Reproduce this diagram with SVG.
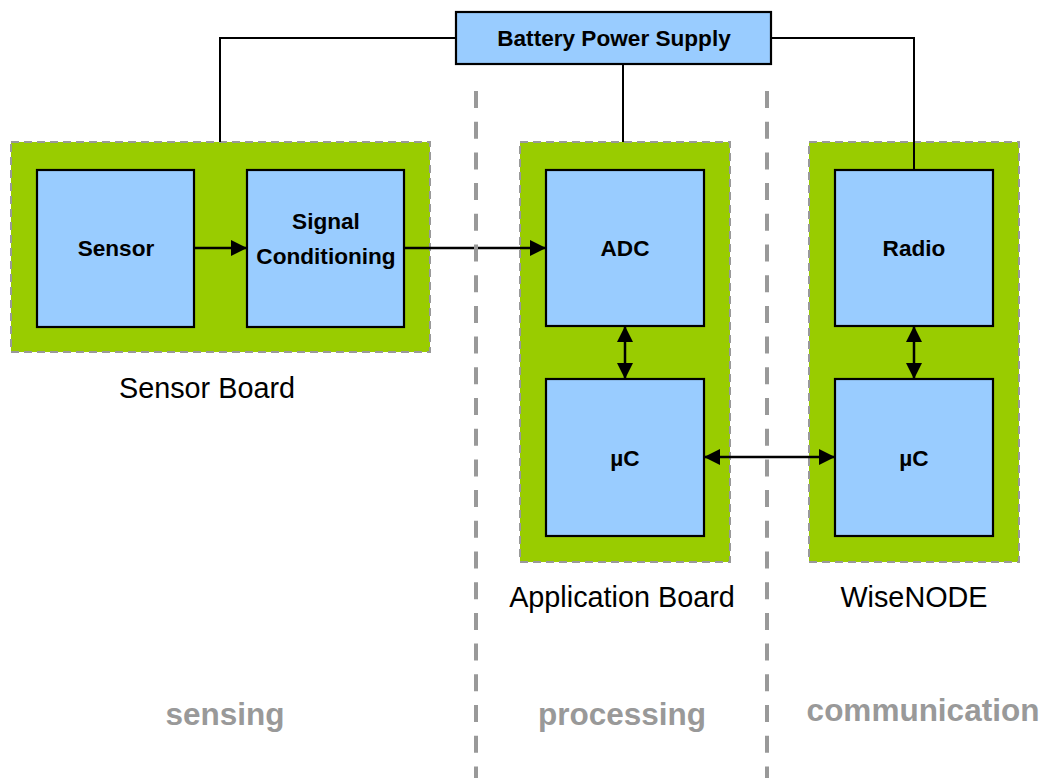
<svg xmlns="http://www.w3.org/2000/svg" width="1047" height="778" viewBox="0 0 1047 778">
<style>
.board{fill:#99CC00;stroke:#999999;stroke-width:2;stroke-dasharray:8 5}
.box{fill:#99CCFF;stroke:#000;stroke-width:2.2}
.lbl{font-family:"Liberation Sans",Arial,sans-serif;font-weight:bold;font-size:22.6px;fill:#000;text-anchor:middle}
.cap{font-family:"Liberation Sans",Arial,sans-serif;font-size:28.8px;fill:#000;text-anchor:middle}
.zone{font-family:"Liberation Sans",Arial,sans-serif;font-weight:bold;font-size:31.5px;fill:#999999;text-anchor:middle}
.wire{fill:none;stroke:#000;stroke-width:2}
.arr{fill:none;stroke:#000;stroke-width:2.5}
.sep{stroke:#999999;stroke-width:4;stroke-dasharray:17 13.7}
</style>
<defs>
<marker id="ah" markerUnits="userSpaceOnUse" viewBox="0 0 16 16" markerWidth="16" markerHeight="16" refX="16" refY="8" orient="auto-start-reverse">
<path d="M0,0 L16,8 L0,16 z" fill="#000"/>
</marker>
</defs>
<rect width="1047" height="778" fill="#fff"/>
<g id="sensor-board">
<rect class="board" x="11" y="142" width="419" height="210"/>
<text class="cap" x="207" y="398">Sensor Board</text>
</g>
<g id="application-board">
<rect class="board" x="520" y="142" width="210" height="420"/>
<text class="cap" x="622" y="607">Application Board</text>
</g>
<g id="wisenode">
<rect class="board" x="809" y="142" width="210" height="420"/>
<text class="cap" x="914" y="607">WiseNODE</text>
</g>
<g id="battery">
<rect class="box" x="456" y="12" width="315" height="52"/>
<text class="lbl" x="614" y="46">Battery Power Supply</text>
</g>
<g id="sensor">
<rect class="box" x="37" y="170" width="157" height="157"/>
<text class="lbl" x="116" y="256">Sensor</text>
</g>
<g id="signal-conditioning">
<rect class="box" x="247" y="170" width="157" height="157"/>
<text class="lbl" x="326" y="229">Signal</text>
<text class="lbl" x="326" y="264">Conditioning</text>
</g>
<g id="adc">
<rect class="box" x="546" y="170" width="158" height="156"/>
<text class="lbl" x="625" y="256">ADC</text>
</g>
<g id="uc-app">
<rect class="box" x="546" y="379" width="158" height="157"/>
<text class="lbl" x="625" y="466">µC</text>
</g>
<g id="radio">
<rect class="box" x="835" y="170" width="158" height="156"/>
<text class="lbl" x="914" y="256">Radio</text>
</g>
<g id="uc-wise">
<rect class="box" x="835" y="379" width="158" height="157"/>
<text class="lbl" x="914" y="466">µC</text>
</g>
<g id="connectors">
<polyline class="wire" points="456,38 220,38 220,142"/>
<line class="wire" x1="623" y1="64" x2="623" y2="142"/>
<polyline class="wire" points="771,38 914,38 914,170"/>
<line class="arr" x1="194" y1="248" x2="247" y2="248" marker-end="url(#ah)"/>
<line class="arr" x1="404" y1="248" x2="546" y2="248" marker-end="url(#ah)"/>
<line class="arr" x1="625" y1="326" x2="625" y2="379" marker-start="url(#ah)" marker-end="url(#ah)"/>
<line class="arr" x1="914" y1="326" x2="914" y2="379" marker-start="url(#ah)" marker-end="url(#ah)"/>
<line class="arr" x1="704" y1="457" x2="835" y2="457" marker-start="url(#ah)" marker-end="url(#ah)"/>
</g>
<g id="separators">
<line class="sep" x1="476" y1="91" x2="476" y2="778"/>
<line class="sep" x1="767" y1="91" x2="767" y2="778"/>
</g>
<g id="zones">
<text class="zone" x="225" y="725">sensing</text>
<text class="zone" x="622" y="725">processing</text>
<text class="zone" x="923" y="721">communication</text>
</g>
</svg>
